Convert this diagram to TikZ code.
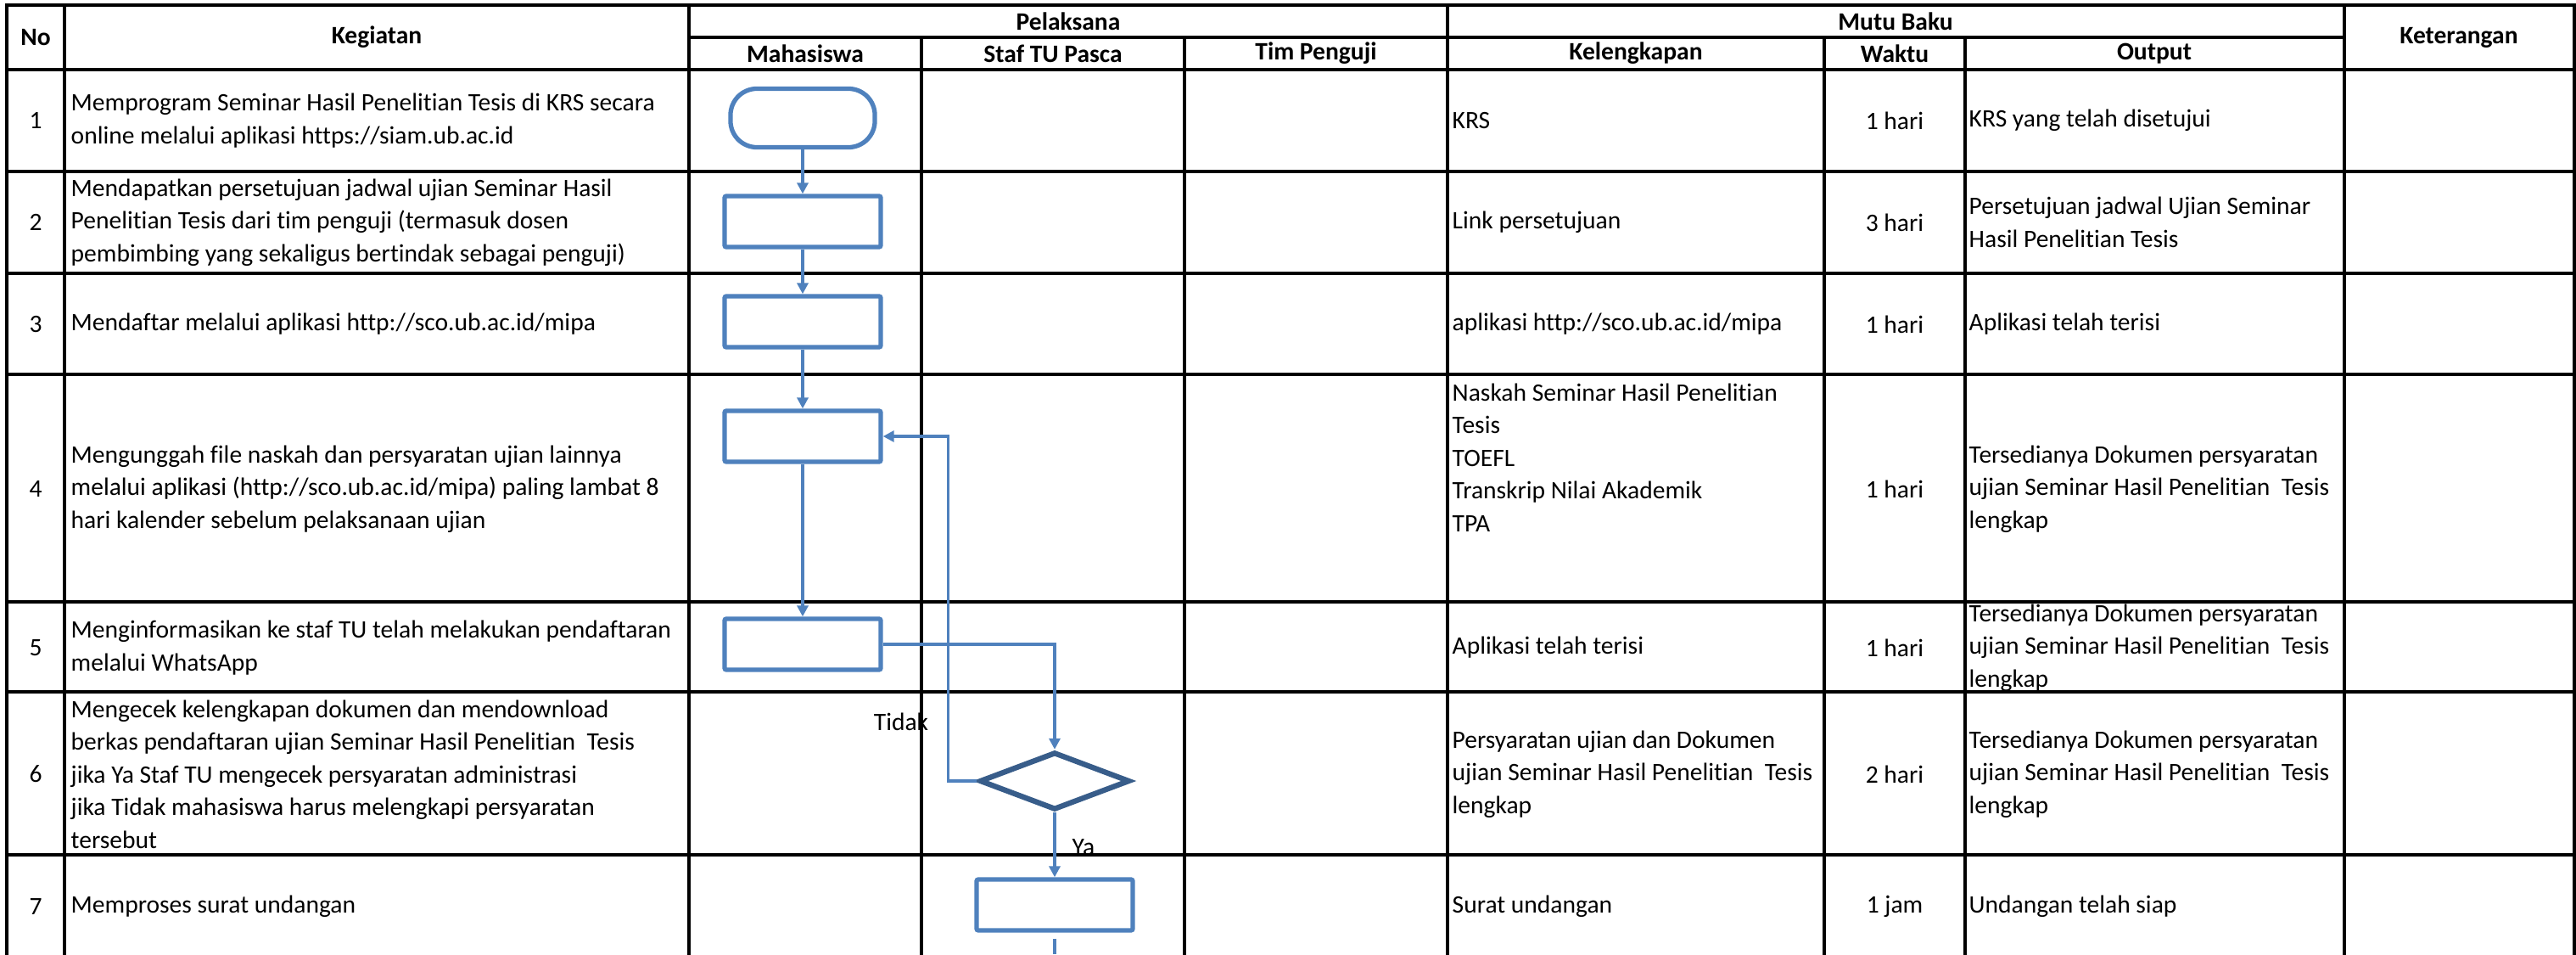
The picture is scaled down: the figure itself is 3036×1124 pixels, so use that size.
\documentclass[tikz,border=0pt]{standalone}
\usepackage{fontspec}
\setmainfont{Carlito}[Ligatures = {NoCommon, NoContextual}]
\usetikzlibrary{arrows.meta}
\usetikzlibrary{shapes.geometric}
\definecolor{fblue}{RGB}{79, 129, 189}
\definecolor{fdark}{RGB}{56, 93, 138}
\newcommand{\cellfont}{\fontsize{8.4}{10.95}\selectfont}
\tikzset{tline/.style = {line width = 0.9pt, line cap = rect}}
\tikzset{proc/.style = {draw = fblue, line width = 1.5pt, rounded corners = 0.6pt, minimum width = 1.84cm, minimum height = 0.6cm, inner sep = 0}}
\tikzset{term/.style = {proc, rounded corners = 0.31cm, minimum width = 1.7cm, minimum height = 0.69cm}}
\tikzset{decide/.style = {diamond, draw = fdark, line width = 1.8pt, minimum width = 1.77cm, minimum height = 0.68cm, inner sep = 0}}
\tikzset{flow/.style = {draw = fblue, line width = 0.95pt, -{Triangle[length = 0.13cm, width = 0.13cm]}}}
\tikzset{txt/.style = {anchor = west, align = left, inner sep = 0}}
\tikzset{hd/.style = {font = \cellfont\bfseries}}

\begin{document}
\begin{tikzpicture}[x = 0.01cm, y = -0.01cm, font = \cellfont]

       \useasboundingbox (0, 0) rectangle (3036, 1124);

       % table
       \foreach \y in {6, 82, 202, 322, 441, 709, 815, 1007}
         \draw [tline] (8, \y) -- (3034, \y);
       \draw [tline] (812, 44) -- (2763, 44);
       \foreach \x in {8, 76, 812, 1706, 2763, 3034}
         \draw [tline] (\x, 6) -- (\x, 1124);
       \foreach \x in {1086, 1396, 2150, 2316}
         \draw [tline] (\x, 44) -- (\x, 1124);

       \node [hd] (hno) at (42, 44) {No};
       \node [hd] (hkeg) at (444, 44) {Kegiatan};
       \node [hd] (hpel) at (1259, 25) {Pelaksana};
       \node [hd] (hmutu) at (2234, 25) {Mutu Baku};
       \node [hd] (hket) at (2898, 44) {Keterangan};
       \node [hd] (hmhs) at (949, 63) {Mahasiswa};
       \node [hd] (hstaf) at (1241, 63) {Staf TU Pasca};
       \node [hd] (htim) at (1551, 63) {Tim Penguji};
       \node [hd] (hkel) at (1928, 63) {Kelengkapan};
       \node [hd] (hwkt) at (2233, 63) {Waktu};
       \node [hd] (hout) at (2539, 63) {Output};

       \foreach \n/\y/\w in {1/142/1 hari, 2/262/3 hari, 3/382/1 hari, 4/576/1 hari, 5/763/1 hari, 6/912/2 hari, 7/1068/1 jam} {
         \node (no\n) at (42, \y) {\n};
         \node (wkt\n) at (2233, \y) {\w};
       }

       \node [txt] (keg1) at (83, 142) {Memprogram Seminar Hasil Penelitian Tesis di KRS secara\\online melalui aplikasi https://siam.ub.ac.id};
       \node [txt] (keg2) at (83, 262) {Mendapatkan persetujuan jadwal ujian Seminar Hasil\\Penelitian Tesis dari tim penguji (termasuk dosen\\pembimbing yang sekaligus bertindak sebagai penguji)};
       \node [txt] (keg3) at (83, 382) {Mendaftar melalui aplikasi http://sco.ub.ac.id/mipa};
       \node [txt] (keg4) at (83, 576) {Mengunggah file naskah dan persyaratan ujian lainnya\\melalui aplikasi (http://sco.ub.ac.id/mipa) paling lambat 8\\hari kalender sebelum pelaksanaan ujian};
       \node [txt] (keg5) at (83, 763) {Menginformasikan ke staf TU telah melakukan pendaftaran\\melalui WhatsApp};
       \node [txt] (keg6) at (83, 912) {Mengecek kelengkapan dokumen dan mendownload\\berkas pendaftaran ujian Seminar Hasil Penelitian\ \ Tesis\\jika Ya Staf TU mengecek persyaratan administrasi\\jika Tidak mahasiswa harus melengkapi persyaratan\\tersebut};
       \node [txt] (keg7) at (83, 1068) {Memproses surat undangan};

       \node [txt] (kel1) at (1711, 142) {KRS};
       \node [txt] (kel2) at (1711, 262) {Link persetujuan};
       \node [txt] (kel3) at (1711, 382) {aplikasi http://sco.ub.ac.id/mipa};
       \node [txt] (kel4) at (1711, 539) {Naskah Seminar Hasil Penelitian\\Tesis\\TOEFL\\Transkrip Nilai Akademik\\TPA};
       \node [txt] (kel5) at (1711, 763) {Aplikasi telah terisi};
       \node [txt] (kel6) at (1711, 912) {Persyaratan ujian dan Dokumen\\ujian Seminar Hasil Penelitian\ \ Tesis\\lengkap};
       \node [txt] (kel7) at (1711, 1068) {Surat undangan};

       \node [txt] (out1) at (2320, 142) {KRS yang telah disetujui};
       \node [txt] (out2) at (2320, 262) {Persetujuan jadwal Ujian Seminar\\Hasil Penelitian Tesis};
       \node [txt] (out3) at (2320, 382) {Aplikasi telah terisi};
       \node [txt] (out4) at (2320, 576) {Tersedianya Dokumen persyaratan\\ujian Seminar Hasil Penelitian\ \ Tesis\\lengkap};
       \node [txt] (out5) at (2320, 763) {Tersedianya Dokumen persyaratan\\ujian Seminar Hasil Penelitian\ \ Tesis\\lengkap};
       \node [txt] (out6) at (2320, 912) {Tersedianya Dokumen persyaratan\\ujian Seminar Hasil Penelitian\ \ Tesis\\lengkap};
       \node [txt] (out7) at (2320, 1068) {Undangan telah siap};

       % flow
       \node [term] (start) at (946, 139) {};
       \node [proc] (s2) at (946, 261) {};
       \node [proc] (s3) at (946, 379) {};
       \node [proc] (s4) at (946, 514) {};
       \node [proc] (s5) at (946, 759) {};
       \node [decide] (check) at (1243, 920) {};
       \node [proc] (s7) at (1243, 1066) {};
       \coordinate (s8) at (1243, 1124);

       \draw [flow] (start) -- (s2);
       \draw [flow] (s2) -- (s3);
       \draw [flow] (s3) -- (s4);
       \draw [flow] (s4) -- (s5);
       \draw [flow] (s5.east) -| (check.north);
       \draw [flow] (check.west) -- ++(-34, 0) |- (s4.east);
       \draw [flow] (check) -- (s7);
       \draw [flow, -] ([yshift = -0.07cm] s7.south) -- (s8);

       \node (tidak) at (1062, 850) {Tidak};
       \node (ya) at (1277, 998) {Ya};
    \end{tikzpicture}
\end{document}
